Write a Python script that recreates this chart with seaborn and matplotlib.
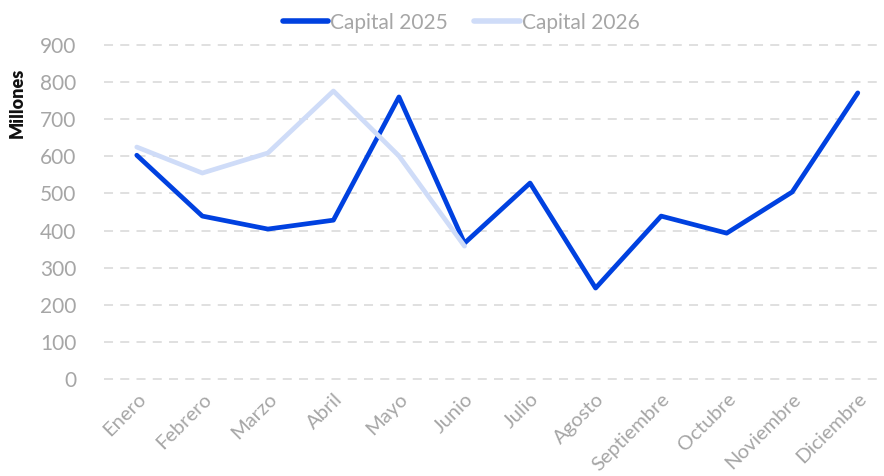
import matplotlib
matplotlib.use("Agg")
import matplotlib.pyplot as plt
import seaborn as sns
import pandas as pd

months = ["Enero", "Febrero", "Marzo", "Abril", "Mayo", "Junio", "Julio",
          "Agosto", "Septiembre", "Octubre", "Noviembre", "Diciembre"]
capital_2025 = [603, 439, 404, 428, 760, 366, 528, 245, 439, 393, 504, 771]
capital_2026 = [625, 555, 609, 776, 601, 358]
yticks = [0, 100, 200, 300, 400, 500, 600, 700, 800, 900]

sns.set_theme(style="white")
plt.rcParams['font.family'] = ['Lato', 'DejaVu Sans']

df = pd.concat([
    pd.DataFrame({"Mes": months, "Valor": capital_2025, "Serie": "Capital 2025"}),
    pd.DataFrame({"Mes": months[:len(capital_2026)], "Valor": capital_2026, "Serie": "Capital 2026"}),
])

fig = plt.figure(figsize=(8.84, 4.76), dpi=100)
ax = fig.add_axes([104/884, (476-379)/476, 1 - 104/884, (379-45)/476])

sns.lineplot(data=df, x="Mes", y="Valor", hue="Serie", sort=False,
             palette={"Capital 2025": "#0041e0", "Capital 2026": "#cfdcf8"},
             linewidth=3.4, ax=ax, legend=True)

tick_color = "#a6a6a6"
ax.set_ylim(0, 900)
ax.set_xlim(-0.5, 11.4)
ax.set_yticks(yticks)
ax.set_yticklabels([str(v) for v in yticks], fontsize=15, color=tick_color)
ax.set_xticks(range(len(months)))
ax.set_xticklabels(months, rotation=45, ha="right", rotation_mode="anchor",
                   fontsize=14.5, color=tick_color)
ax.tick_params(axis="y", length=0, pad=20)
ax.tick_params(axis="x", length=0, pad=8)
for s in ax.spines.values():
    s.set_visible(False)
ax.yaxis.grid(True, color="#dddddd", linestyle=(0, (5, 4)), linewidth=1.3)
for gl in ax.get_ygridlines():
    gl.set_clip_on(False)
ax.set_xlabel("")
ax.set_ylabel("Millones", fontsize=13, fontweight="heavy", color="#111111")
ax.yaxis.set_label_coords(-0.100, 0.826)

leg = ax.legend(loc="lower center", bbox_to_anchor=(0.458, 1.0), ncol=2, frameon=False,
                fontsize=15, handlelength=2.2, handletextpad=0.1, columnspacing=1.25,
                borderaxespad=0.2)
for t in leg.get_texts():
    t.set_color(tick_color)
for l in leg.get_lines():
    l.set_linewidth(4)

fig.savefig("out.png", dpi=100)
